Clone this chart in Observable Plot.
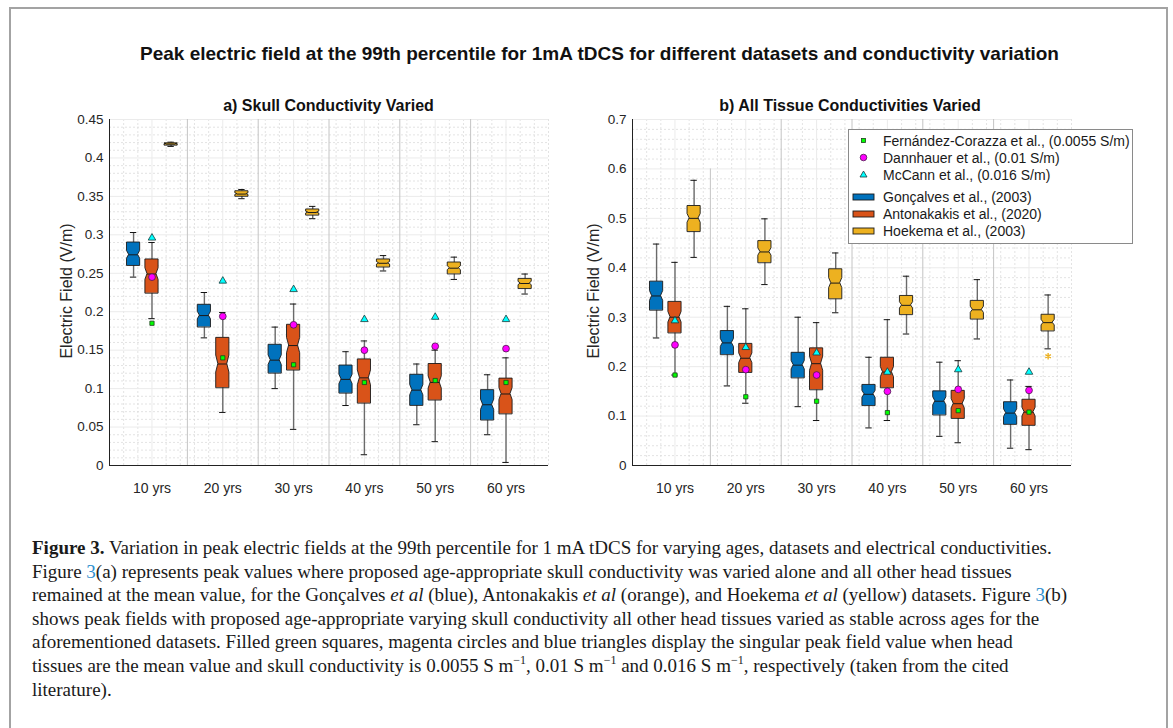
<!DOCTYPE html>
<html>
<head>
<meta charset="utf-8">
<script src="https://cdn.jsdelivr.net/npm/d3@7"></script>
<script src="https://cdn.jsdelivr.net/npm/@observablehq/plot@0.6"></script>
<style>
  html, body { margin: 0; padding: 0; background: #fff; }
  #root { position: relative; width: 1173px; height: 728px; overflow: hidden; font-family: "Liberation Sans", Arial, sans-serif; color: #111; }
  #frame { position: absolute; left: 9px; top: 7px; width: 1155px; height: 800px; border: 2px solid #a3a3a3; }
  .title { position: absolute; left: 13px; width: 1173px; top: 42px; line-height: 24px; text-align: center; font-weight: bold; font-size: 19px; }
  .sub { position: absolute; top: 96px; line-height: 20px; text-align: center; font-weight: bold; font-size: 16px; }
  .panel { position: absolute; }
  .ylab { position: absolute; font-size: 16px; color: #262626; transform: translate(-50%, -50%) rotate(-90deg); white-space: nowrap; }
  #legend { position: absolute; left: 848px; top: 129px; width: 283px; height: 113px; border: 1px solid #8a8a8a; background: #fff; font-size: 14px; color: #1a1a1a; }
  .lrow { position: absolute; left: 0; height: 16px; width: 100%; }
  .lrow .txt { position: absolute; left: 34px; top: 0; line-height: 16px; white-space: nowrap; }
  .lrow svg { position: absolute; left: 0; top: 0; }
  #caption { position: absolute; left: 32px; top: 536px; font-family: "Liberation Serif", "DejaVu Serif", serif; font-size: 19px; line-height: 23.6px; color: #1a1a1a; white-space: nowrap; }
  #caption .lnk { color: #2f8fcf; }
  #caption sup { font-size: 12px; line-height: 0; vertical-align: 0; position: relative; top: -8px; }
</style>
</head>
<body>
<div id="root">
  <div id="frame"></div>
  <div class="title">Peak electric field at the 99th percentile for 1mA tDCS for different datasets and conductivity variation</div>
  <div class="sub" style="left:109px;width:439px;">a) Skull Conductivity Varied</div>
  <div class="sub" style="left:632px;width:436px;">b) All Tissue Conductivities Varied</div>
  <div id="panelA" class="panel" style="left:40px;top:109px;"></div>
  <div id="panelB" class="panel" style="left:563px;top:109px;"></div>
  <div class="ylab" style="left:67px;top:291px;">Electric Field (V/m)</div>
  <div class="ylab" style="left:594px;top:291px;">Electric Field (V/m)</div>
  <div id="legend"></div>
  <div id="caption"></div>
</div>
<script>
// ---------------- DATA ----------------
const ages = ["10 yrs", "20 yrs", "30 yrs", "40 yrs", "50 yrs", "60 yrs"];
const datasetNames = ["Gonçalves et al., (2003)", "Antonakakis et al., (2020)", "Hoekema et al., (2003)"];
const datasetColors = ["#0072BD", "#D95319", "#EDB120"];
const literatureNames = ["Fernández-Corazza et al., (0.0055 S/m)", "Dannhauer et al., (0.01 S/m)", "McCann et al., (0.016 S/m)"];

// five-number summaries per age: [lower whisker, Q1, median, Q3, upper whisker]
// (a) skull conductivity varied
const skullGoncalves = [
  [0.245, 0.260, 0.274, 0.290, 0.303],
  [0.166, 0.180, 0.195, 0.209, 0.225],
  [0.100, 0.120, 0.137, 0.157, 0.180],
  [0.078, 0.094, 0.112, 0.130, 0.148],
  [0.053, 0.078, 0.098, 0.118, 0.132],
  [0.040, 0.059, 0.079, 0.098, 0.118]
];
const skullAntonakakis = [
  [0.191, 0.224, 0.249, 0.268, 0.290],
  [0.069, 0.101, 0.132, 0.166, 0.199],
  [0.047, 0.124, 0.156, 0.183, 0.210],
  [0.014, 0.081, 0.114, 0.138, 0.162],
  [0.031, 0.085, 0.108, 0.132, 0.150],
  [0.004, 0.067, 0.093, 0.113, 0.140]
];
const skullHoekema = [
  [0.415, 0.4165, 0.418, 0.419, 0.4205],
  [0.347, 0.350, 0.353, 0.3567, 0.359],
  [0.321, 0.3255, 0.329, 0.333, 0.337],
  [0.253, 0.258, 0.263, 0.268, 0.273],
  [0.242, 0.249, 0.2566, 0.264, 0.271],
  [0.223, 0.230, 0.2367, 0.2427, 0.249]
];
const skullFernandez = [0.185, 0.140, 0.131, 0.108, 0.1105, 0.108];
const skullDannhauer = [0.245, 0.194, 0.183, 0.150, 0.155, 0.152];
const skullMcCann = [0.296, 0.240, 0.229, 0.190, 0.193, 0.190];

// (b) all tissue conductivities varied
const allGoncalves = [
  [0.258, 0.314, 0.343, 0.372, 0.448],
  [0.161, 0.224, 0.248, 0.272, 0.322],
  [0.119, 0.177, 0.203, 0.228, 0.300],
  [0.076, 0.121, 0.144, 0.163, 0.219],
  [0.059, 0.102, 0.130, 0.150, 0.209],
  [0.035, 0.083, 0.106, 0.128, 0.173]
];
const allAntonakakis = [
  [0.183, 0.268, 0.300, 0.331, 0.411],
  [0.126, 0.188, 0.217, 0.246, 0.317],
  [0.091, 0.153, 0.206, 0.237, 0.289],
  [0.091, 0.157, 0.189, 0.218, 0.295],
  [0.046, 0.095, 0.125, 0.151, 0.212],
  [0.032, 0.081, 0.108, 0.133, 0.160]
];
const allHoekema = [
  [0.421, 0.473, 0.500, 0.525, 0.577],
  [0.366, 0.410, 0.432, 0.454, 0.499],
  [0.309, 0.337, 0.369, 0.397, 0.430],
  [0.266, 0.305, 0.324, 0.343, 0.383],
  [0.256, 0.296, 0.315, 0.333, 0.376],
  [0.236, 0.272, 0.289, 0.305, 0.345]
];
const allHoekemaOutliers = [{age: 6, value: 0.221}];
const allFernandez = [0.183, 0.139, 0.130, 0.107, 0.111, 0.108];
const allDannhauer = [0.244, 0.194, 0.183, 0.150, 0.154, 0.152];
const allMcCann = [0.293, 0.239, 0.228, 0.189, 0.194, 0.189];

const panelATicks = [0, 0.05, 0.1, 0.15, 0.2, 0.25, 0.3, 0.35, 0.4, 0.45];
const panelBTicks = [0, 0.1, 0.2, 0.3, 0.4, 0.5, 0.6, 0.7];
const panelADividerTops = [0.45, 0.45, 0.45, 0.45, 0.45];
const panelBDividerTops = [0.6, 0.7, 0.7, 0.7, 0.7];

// ---------------- DRAWING ----------------
const offsets = [-0.26, 0, 0.27];
const HW = 0.093;   // half box width (x units)
const CAP = 0.045;  // half cap width
const markerColors = [
  {fill: "#00ff00", stroke: "#1f3f1f", symbol: "square", r: 2.4},
  {fill: "#ff00ff", stroke: "#4a1a4a", symbol: "circle", r: 3.4},
  {fill: "#00ffff", stroke: "#1a3a3a", symbol: "triangle", r: 2.8}
];

function panel(boxSets, markerSets, ticks, minorStep, dividerTops, outliers) {
  const yMax = ticks[ticks.length - 1];
  const boxes = [];
  boxSets.forEach((arr, d) => arr.forEach((v, i) => boxes.push({
    d, i, c: i + 1 + offsets[d], lo: v[0], q1: v[1], med: v[2], q3: v[3], hi: v[4]
  })));
  const outline = boxes.flatMap((b, k) => {
    const n = 0.17 * (b.q3 - b.q1);
    return [
      {k, d: b.d, y: b.q1, x1: b.c - HW, x2: b.c + HW},
      {k, d: b.d, y: b.med - n, x1: b.c - HW, x2: b.c + HW},
      {k, d: b.d, y: b.med, x1: b.c - HW * 0.68, x2: b.c + HW * 0.68},
      {k, d: b.d, y: b.med + n, x1: b.c - HW, x2: b.c + HW},
      {k, d: b.d, y: b.q3, x1: b.c - HW, x2: b.c + HW}
    ];
  });
  const markers = markerSets.flatMap((arr, m) => arr.map((v, i) => ({m, x: i + 1, y: v})));
  const minor = d3.range(0, yMax + 1e-9, minorStep).filter(v => !ticks.some(t => Math.abs(t - v) < 1e-9));
  const xMinor = d3.range(0.4, 6.61, 0.2).filter(v => Math.abs(v - Math.round(v)) > 1e-6);
  const dividers = dividerTops.map((top, j) => ({x: j + 1.5, top}));

  return Plot.plot({
    width: 530, height: 396,
    marginLeft: 69, marginRight: 530 - 69 - 439, marginTop: 10, marginBottom: 40,
    x: {domain: [0.4, 6.6], axis: null},
    y: {domain: [0, yMax], axis: null},
    style: {fontFamily: "Liberation Sans, Arial, sans-serif", fontSize: "13.5px", color: "#262626", background: "transparent", overflow: "visible"},
    marks: [
      // minor grid
      Plot.ruleY(minor, {stroke: "#dcdcdc", strokeDasharray: "2,2", strokeWidth: 0.8}),
      Plot.ruleX(xMinor, {stroke: "#dcdcdc", strokeDasharray: "2,2", strokeWidth: 0.8}),
      // major grid
      Plot.ruleY(ticks.filter(t => t > 0), {stroke: "#ebebeb", strokeWidth: 1}),
      Plot.ruleX([1, 2, 3, 4, 5, 6], {stroke: "#ebebeb", strokeWidth: 1}),
      // group separators
      Plot.ruleX(dividers, {x: "x", y1: 0, y2: "top", stroke: "#c4c4c4", strokeWidth: 1}),
      // whiskers
      Plot.ruleX(boxes, {x: "c", y1: "q3", y2: "hi", stroke: "#6a6a6a", strokeWidth: 1.4}),
      Plot.ruleX(boxes, {x: "c", y1: "lo", y2: "q1", stroke: "#6a6a6a", strokeWidth: 1.4}),
      Plot.ruleY(boxes, {y: "hi", x1: d => d.c - CAP, x2: d => d.c + CAP, stroke: "#111", strokeWidth: 1}),
      Plot.ruleY(boxes, {y: "lo", x1: d => d.c - CAP, x2: d => d.c + CAP, stroke: "#111", strokeWidth: 1}),
      // notched boxes
      Plot.areaX(outline, {y: "y", x1: "x1", x2: "x2", z: "k", fill: d => datasetColors[d.d], stroke: "#1a1a1a", strokeWidth: 0.9, curve: "linear"}),
      Plot.ruleY(boxes, {y: "med", x1: d => d.c - HW * 0.68, x2: d => d.c + HW * 0.68, stroke: "#1a1a1a", strokeWidth: 1}),
      // outliers
      Plot.dot(outliers || [], {x: d => d.age + offsets[2], y: "value", symbol: "asterisk", r: 3, stroke: datasetColors[2], strokeWidth: 1.4}),
      // literature markers
      Plot.dot(markers, {x: "x", y: "y", symbol: d => markerColors[d.m].symbol, r: d => markerColors[d.m].r,
        fill: d => markerColors[d.m].fill, stroke: d => markerColors[d.m].stroke, strokeWidth: 0.8}),
      // axes
      Plot.ruleY([0], {stroke: "#222", strokeWidth: 1}),
      Plot.ruleX([0.4], {stroke: "#222", strokeWidth: 1}),
      Plot.axisY({ticks, tickSize: 0, tickPadding: 6, tickFormat: t => String(+t.toFixed(2)), label: null, fontSize: 13.5}),
      Plot.axisX({ticks: [1, 2, 3, 4, 5, 6], tickSize: 0, tickPadding: 18, tickFormat: i => ages[i - 1], label: null, fontSize: 14})
    ],
    symbol: {type: "identity"},
    r: {type: "identity"},
    fill: {type: "identity"},
    stroke: {type: "identity"}
  });
}

document.getElementById("panelA").appendChild(panel(
  [skullGoncalves, skullAntonakakis, skullHoekema],
  [skullFernandez, skullDannhauer, skullMcCann],
  panelATicks, 0.01, panelADividerTops, []
));
document.getElementById("panelB").appendChild(panel(
  [allGoncalves, allAntonakakis, allHoekema],
  [allFernandez, allDannhauer, allMcCann],
  panelBTicks, 0.02, panelBDividerTops, allHoekemaOutliers
));

// ---------------- LEGEND ----------------
const legend = document.getElementById("legend");
const rowTops = [3, 20, 37, 59, 76, 93];
const legendItems = [
  ...literatureNames.map((name, m) => ({name, kind: "marker", m})),
  ...datasetNames.map((name, d) => ({name, kind: "box", d}))
];
legendItems.forEach((it, j) => {
  const row = document.createElement("div");
  row.className = "lrow";
  row.style.top = rowTops[j] + "px";
  let sym;
  if (it.kind === "box") {
    sym = `<svg width="30" height="16"><rect x="4" y="5" width="21" height="6" fill="${datasetColors[it.d]}" stroke="#1a1a1a" stroke-width="0.9"/></svg>`;
  } else {
    const mc = markerColors[it.m];
    const shape = it.m === 0 ? `<rect x="12.5" y="5.5" width="4" height="4" fill="${mc.fill}" stroke="${mc.stroke}" stroke-width="0.8"/>`
      : it.m === 1 ? `<circle cx="14.5" cy="7.5" r="3.3" fill="${mc.fill}" stroke="${mc.stroke}" stroke-width="0.8"/>`
      : `<path d="M14.5,4 L18,10 L11,10 Z" fill="${mc.fill}" stroke="${mc.stroke}" stroke-width="0.8"/>`;
    sym = `<svg width="30" height="16">${shape}</svg>`;
  }
  row.innerHTML = sym + `<span class="txt">${it.name}</span>`;
  legend.appendChild(row);
});

// ---------------- CAPTION ----------------
const captionLines = [
  `<b>Figure 3.</b> Variation in peak electric fields at the 99th percentile for 1 mA tDCS for varying ages, datasets and electrical conductivities.`,
  `Figure <span class="lnk">3</span>(a) represents peak values where proposed age-appropriate skull conductivity was varied alone and all other head tissues`,
  `remained at the mean value, for the Gonçalves <i>et al</i> (blue), Antonakakis <i>et al</i> (orange), and Hoekema <i>et al</i> (yellow) datasets. Figure <span class="lnk">3</span>(b)`,
  `shows peak fields with proposed age-appropriate varying skull conductivity all other head tissues varied as stable across ages for the`,
  `aforementioned datasets. Filled green squares, magenta circles and blue triangles display the singular peak field value when head`,
  `tissues are the mean value and skull conductivity is 0.0055 S m<sup>−1</sup>, 0.01 S m<sup>−1</sup> and 0.016 S m<sup>−1</sup>, respectively (taken from the cited`,
  `literature).`
];
document.getElementById("caption").innerHTML = captionLines.map(l => `<div>${l}</div>`).join("");
</script>
</body>
</html>
